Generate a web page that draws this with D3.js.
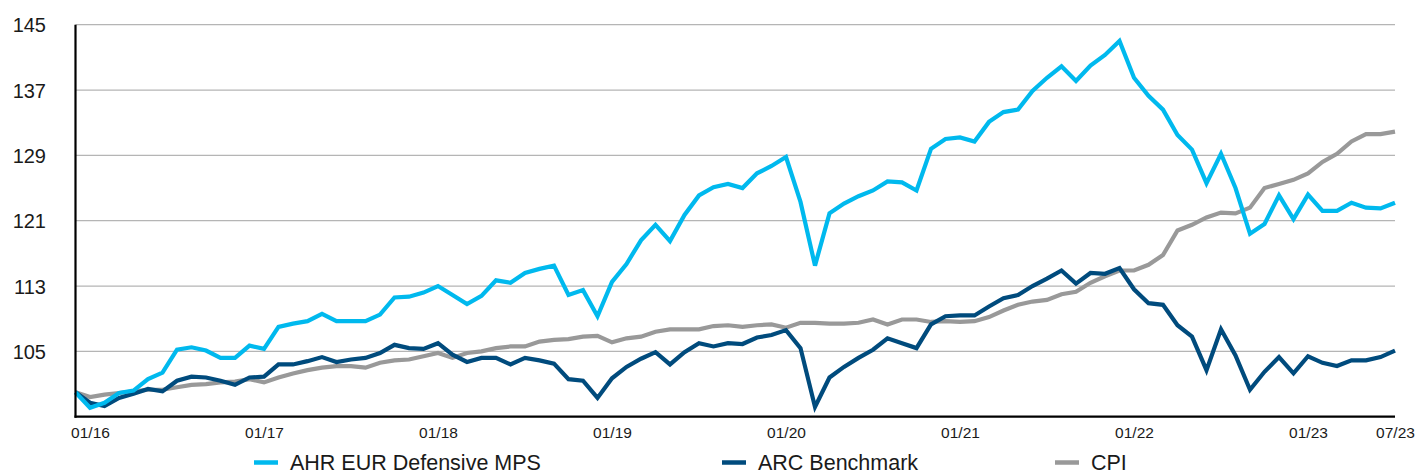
<!DOCTYPE html>
<html>
<head>
<meta charset="utf-8">
<script src="https://cdn.jsdelivr.net/npm/d3@7"></script>
<style>
  html, body { margin: 0; padding: 0; background: #fff; }
  svg { display: block; }
</style>
</head>
<body>
<svg id="chart" width="1416" height="475"></svg>
<script>
// Monthly points, 12/15 (base 100) through 07/23
const months = d3.range(92);

const ahr = [100, 98.1, 98.7, 99.9, 100.2, 101.6, 102.4, 105.2, 105.5, 105.1,
  104.2, 104.2, 105.7, 105.3, 108, 108.4, 108.7, 109.6, 108.7, 108.7,
  108.7, 109.5, 111.6, 111.7, 112.2, 113, 111.9, 110.8, 111.8, 113.7,
  113.4, 114.6, 115.1, 115.5, 111.9, 112.5, 109.3, 113.5, 115.7, 118.6,
  120.5, 118.5, 121.7, 124.1, 125.1, 125.5, 125, 126.8, 127.7, 128.8,
  123.3, 115.5, 121.9, 123.1, 124, 124.7, 125.8, 125.7, 124.7, 129.8,
  131, 131.2, 130.7, 133.1, 134.3, 134.6, 136.9, 138.5, 139.9, 138.1,
  140, 141.3, 143, 138.5, 136.3, 134.6, 131.5, 129.7, 125.6, 129.2,
  125, 119.4, 120.6, 124.1, 121.2, 124.2, 122.2, 122.2, 123.2, 122.6,
  122.5, 123.2];

const arc = [100, 98.7, 98.3, 99.3, 99.8, 100.4, 100.1, 101.4, 101.9, 101.8,
  101.4, 100.9, 101.8, 101.9, 103.4, 103.4, 103.8, 104.3, 103.7, 104.0,
  104.2, 104.8, 105.8, 105.4, 105.3, 106, 104.6, 103.7, 104.2, 104.2,
  103.4, 104.2, 103.9, 103.5, 101.6, 101.4, 99.3, 101.7, 103.1, 104.1,
  104.9, 103.4, 104.9, 106, 105.6, 106, 105.9, 106.7, 107, 107.6,
  105.4, 98.2, 101.8, 103.1, 104.2, 105.2, 106.6, 106, 105.4, 108.3,
  109.3, 109.4, 109.4, 110.5, 111.5, 111.9, 113, 113.9, 114.9, 113.3,
  114.6, 114.5, 115.2, 112.6, 110.9, 110.7, 108.2, 106.8, 102.7, 107.7,
  104.5, 100.3, 102.5, 104.3, 102.3, 104.4, 103.6, 103.2, 103.9, 103.9,
  104.3, 105.1];

const cpi = [100, 99.4, 99.7, 99.9, 100.1, 100.3, 100.3, 100.6, 100.9, 101,
  101.2, 101.3, 101.6, 101.2, 101.8, 102.3, 102.7, 103, 103.2, 103.2,
  103, 103.6, 103.9, 104, 104.4, 104.8, 104.2, 104.8, 105, 105.4,
  105.6, 105.6, 106.2, 106.4, 106.5, 106.8, 106.9, 106.1, 106.6, 106.8,
  107.4, 107.7, 107.7, 107.7, 108.1, 108.2, 108, 108.2, 108.3, 107.9,
  108.5, 108.5, 108.4, 108.4, 108.5, 108.9, 108.3, 108.9, 108.9, 108.6,
  108.7, 108.6, 108.7, 109.2, 110, 110.7, 111.1, 111.3, 112, 112.3,
  113.4, 114.2, 114.9, 114.9, 115.6, 116.8, 119.8, 120.5, 121.4, 122,
  121.9, 122.6, 125, 125.5, 126, 126.8, 128.2, 129.2, 130.7, 131.6,
  131.6, 131.9];

const yTicks = [105, 113, 121, 129, 137, 145];
const xTickIdx = [1, 13, 25, 37, 49, 61, 73, 85, 91];
const xTickLabels = ["01/16", "01/17", "01/18", "01/19", "01/20", "01/21", "01/22", "01/23", "07/23"];

const seriesNames = ["AHR EUR Defensive MPS", "ARC Benchmark", "CPI"];
const seriesColors = ["#00b9ee", "#004b7d", "#999999"];

const svg = d3.select("#chart");
const x = d3.scaleLinear().domain([0, 91]).range([75.5, 1395]);
const y = d3.scaleLinear().domain([97, 145]).range([416.7, 24.7]);

// gridlines
svg.append("g").selectAll("line").data(yTicks).join("line")
  .attr("x1", x(0)).attr("x2", x(91))
  .attr("y1", d => y(d)).attr("y2", d => y(d))
  .attr("stroke", "#b5b5b5").attr("stroke-width", 1.2);

// y axis
const yAxis = d3.axisLeft(y).tickValues(yTicks).tickSize(0).tickPadding(0);
const gy = svg.append("g").attr("transform", "translate(46,0)").call(yAxis);
gy.select(".domain").remove();
gy.selectAll("text").attr("font-family", "Liberation Sans, Arial, sans-serif")
  .attr("font-size", 20).attr("fill", "#1a1a1a").attr("dy", "0.35em");

// x axis labels
const xAxis = d3.axisBottom(x).tickValues(xTickIdx).tickSize(0).tickPadding(0)
  .tickFormat((d, i) => xTickLabels[i]);
const gx = svg.append("g").attr("transform", "translate(0,427)").call(xAxis);
gx.select(".domain").remove();
gx.selectAll("text").attr("font-family", "Liberation Sans, Arial, sans-serif")
  .attr("font-size", 15.5).attr("fill", "#1a1a1a").attr("dy", "0.71em");

// lines
const line = d3.line().x((d, i) => x(i)).y(d => y(d));
const data = [ahr, arc, cpi];
[2, 1, 0].forEach(k => {
  svg.append("path").datum(data[k])
    .attr("d", line)
    .attr("fill", "none")
    .attr("stroke", seriesColors[k])
    .attr("stroke-width", 4.2)
    .attr("stroke-linejoin", "miter")
    .attr("stroke-miterlimit", 3);
});

// axis lines
svg.append("line").attr("x1", x(0)).attr("x2", x(0))
  .attr("y1", y(145)).attr("y2", y(97) + 1)
  .attr("stroke", "#000").attr("stroke-width", 2.2);
svg.append("line").attr("x1", x(0) - 1).attr("x2", x(91))
  .attr("y1", y(97)).attr("y2", y(97))
  .attr("stroke", "#000").attr("stroke-width", 2.2);

// legend
const legendX = [254, 722, 1055];
const lg = svg.append("g");
seriesNames.forEach((name, k) => {
  lg.append("line").attr("x1", legendX[k]).attr("x2", legendX[k] + 24)
    .attr("y1", 462.5).attr("y2", 462.5)
    .attr("stroke", seriesColors[k]).attr("stroke-width", 4.5);
  lg.append("text").attr("x", legendX[k] + 36).attr("y", 470)
    .attr("font-family", "Liberation Sans, Arial, sans-serif")
    .attr("font-size", 21.5).attr("fill", "#1a1a1a")
    .text(name);
});
</script>
</body>
</html>
